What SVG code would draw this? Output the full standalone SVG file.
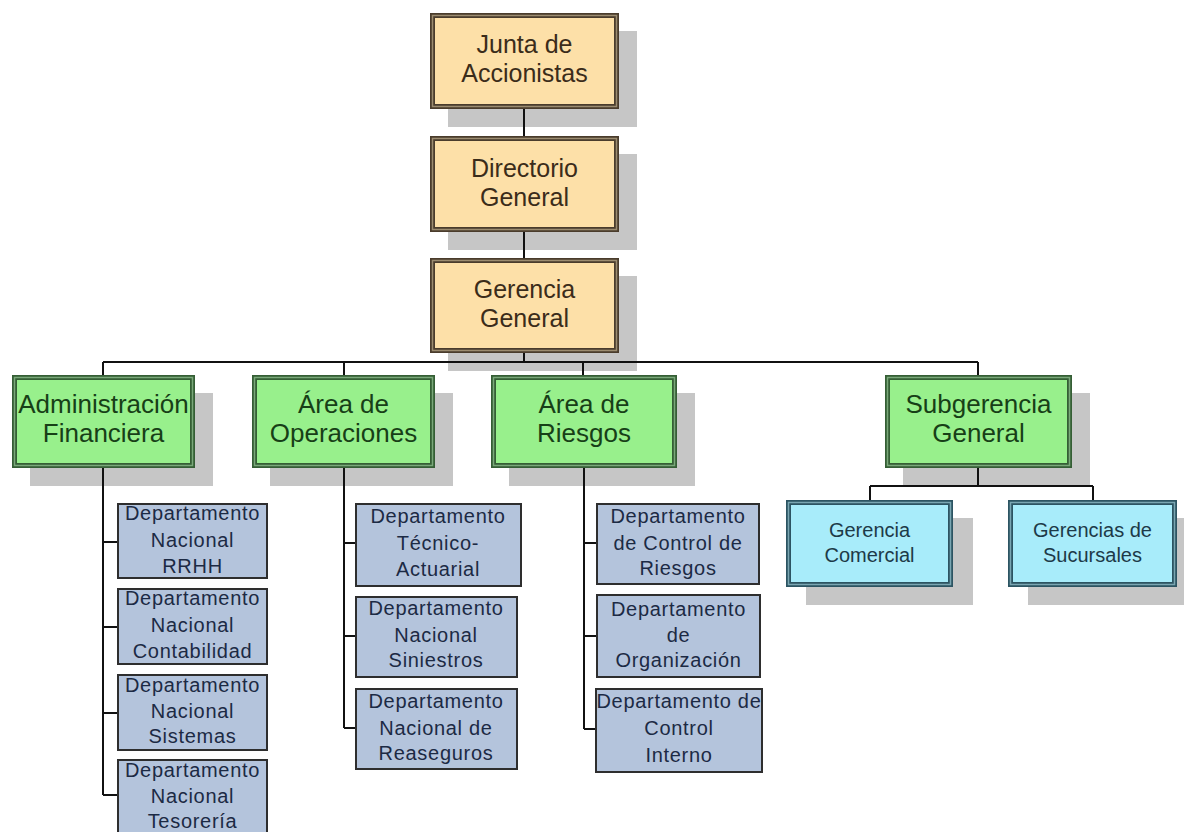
<svg xmlns="http://www.w3.org/2000/svg" width="1184" height="832" viewBox="0 0 1184 832">
  <style>
    text { font-family: "Liberation Sans", Arial, sans-serif; text-anchor: middle; }
    .shadow { fill: #c6c6c6; }
    .tan .frame { fill: #fde0a8; stroke: #4a3c2c; stroke-width: 5; }
    .tan .inner { fill: none; stroke: #9c8c70; stroke-width: 1.5; }
    .tan text { font-size: 25px; fill: #3b2c1a; }
    .green .frame { fill: #98f08c; stroke: #355e35; stroke-width: 5; }
    .green .inner { fill: none; stroke: #7aa87a; stroke-width: 1.5; }
    .green text { font-size: 26px; fill: #173f17; }
    .cyan .frame { fill: #a8ecfa; stroke: #2c5462; stroke-width: 5; }
    .cyan .inner { fill: none; stroke: #7aa6b2; stroke-width: 1.5; }
    .cyan text { font-size: 20px; fill: #1d3a48; }
    .dept rect { fill: #b4c4dc; stroke: #2e2e2e; stroke-width: 2; }
    .dept text { font-size: 20px; fill: #1c2a44; letter-spacing: 0.7px; }
    .links path { fill: none; stroke: #111; stroke-width: 2; }
  </style>

  <rect width="1184" height="832" fill="#ffffff"/>

  <!-- drop shadows of the upper boxes -->
  <g id="shadows">
    <rect class="shadow" x="448" y="31" width="189" height="96"/>
    <rect class="shadow" x="448" y="154" width="189" height="96"/>
    <rect class="shadow" x="448" y="276" width="189" height="95"/>
    <rect class="shadow" x="30" y="393" width="183" height="93"/>
    <rect class="shadow" x="270" y="393" width="183" height="93"/>
    <rect class="shadow" x="509" y="393" width="186" height="93"/>
    <rect class="shadow" x="903" y="393" width="187" height="93"/>
    <rect class="shadow" x="806" y="518" width="167" height="87"/>
    <rect class="shadow" x="1028" y="518" width="169" height="87"/>
  </g>

  <!-- connectors -->
  <g id="connectors" class="links">
    <path d="M524 109V136M524 232V258M524 353V362"/>
    <path d="M103 362H978M103 362V375M344 362V375M583 362V375M978 362V375"/>
    <path d="M103 468V795M103 542H117M103 627H117M103 713H117M103 795H117"/>
    <path d="M344 468V728M344 543H355M344 636H355M344 728H355"/>
    <path d="M584 468V729M584 543H596M584 636H596M584 729H596"/>
    <path d="M978 468V486M870 486H1093M870 486V500M1093 486V500"/>
  </g>

  <!-- top management -->
  <g id="junta" class="tan">
    <rect class="frame" x="432.5" y="15.5" width="184" height="91"/>
    <rect class="inner" x="432.5" y="15.5" width="184" height="91"/>
    <text x="524.5" y="53">Junta de</text>
    <text x="524.5" y="82">Accionistas</text>
  </g>
  <g id="directorio" class="tan">
    <rect class="frame" x="432.5" y="138.5" width="184" height="91"/>
    <rect class="inner" x="432.5" y="138.5" width="184" height="91"/>
    <text x="524.5" y="177">Directorio</text>
    <text x="524.5" y="206">General</text>
  </g>
  <g id="gerencia-general" class="tan">
    <rect class="frame" x="432.5" y="260.5" width="184" height="90"/>
    <rect class="inner" x="432.5" y="260.5" width="184" height="90"/>
    <text x="524.5" y="298">Gerencia</text>
    <text x="524.5" y="327">General</text>
  </g>

  <!-- areas -->
  <g id="administracion" class="green">
    <rect class="frame" x="14.5" y="377.5" width="178" height="88"/>
    <rect class="inner" x="14.5" y="377.5" width="178" height="88"/>
    <text x="103.5" y="413">Administración</text>
    <text x="103.5" y="442">Financiera</text>
  </g>
  <g id="operaciones" class="green">
    <rect class="frame" x="254.5" y="377.5" width="178" height="88"/>
    <rect class="inner" x="254.5" y="377.5" width="178" height="88"/>
    <text x="343.5" y="413">Área de</text>
    <text x="343.5" y="442">Operaciones</text>
  </g>
  <g id="riesgos" class="green">
    <rect class="frame" x="493.5" y="377.5" width="181" height="88"/>
    <rect class="inner" x="493.5" y="377.5" width="181" height="88"/>
    <text x="584" y="413">Área de</text>
    <text x="584" y="442">Riesgos</text>
  </g>
  <g id="subgerencia" class="green">
    <rect class="frame" x="887.5" y="377.5" width="182" height="88"/>
    <rect class="inner" x="887.5" y="377.5" width="182" height="88"/>
    <text x="978.5" y="413">Subgerencia</text>
    <text x="978.5" y="442">General</text>
  </g>

  <!-- gerencias under subgerencia -->
  <g id="gerencia-comercial" class="cyan">
    <rect class="frame" x="788.5" y="502.5" width="162" height="82"/>
    <rect class="inner" x="788.5" y="502.5" width="162" height="82"/>
    <text x="869.5" y="537">Gerencia</text>
    <text x="869.5" y="562">Comercial</text>
  </g>
  <g id="gerencias-sucursales" class="cyan">
    <rect class="frame" x="1010.5" y="502.5" width="164" height="82"/>
    <rect class="inner" x="1010.5" y="502.5" width="164" height="82"/>
    <text x="1092.5" y="537">Gerencias de</text>
    <text x="1092.5" y="562">Sucursales</text>
  </g>

  <!-- departments: Administración Financiera -->
  <g id="dep-rrhh" class="dept">
    <rect x="118" y="504" width="149" height="74"/>
    <text x="192.5" y="520">Departamento</text>
    <text x="192.5" y="547">Nacional</text>
    <text x="192.5" y="573">RRHH</text>
  </g>
  <g id="dep-contabilidad" class="dept">
    <rect x="118" y="589" width="149" height="75"/>
    <text x="192.5" y="605">Departamento</text>
    <text x="192.5" y="632">Nacional</text>
    <text x="192.5" y="658">Contabilidad</text>
  </g>
  <g id="dep-sistemas" class="dept">
    <rect x="118" y="675" width="149" height="75"/>
    <text x="192.5" y="692">Departamento</text>
    <text x="192.5" y="718">Nacional</text>
    <text x="192.5" y="743">Sistemas</text>
  </g>
  <g id="dep-tesoreria" class="dept">
    <rect x="118" y="760" width="149" height="80"/>
    <text x="192.5" y="777">Departamento</text>
    <text x="192.5" y="803">Nacional</text>
    <text x="192.5" y="828">Tesorería</text>
  </g>

  <!-- departments: Área de Operaciones -->
  <g id="dep-tecnico" class="dept">
    <rect x="356" y="504" width="165" height="82"/>
    <text x="438" y="523">Departamento</text>
    <text x="438" y="550">Técnico-</text>
    <text x="438" y="576">Actuarial</text>
  </g>
  <g id="dep-siniestros" class="dept">
    <rect x="356" y="597" width="161" height="80"/>
    <text x="436" y="615">Departamento</text>
    <text x="436" y="642">Nacional</text>
    <text x="436" y="667">Siniestros</text>
  </g>
  <g id="dep-reaseguros" class="dept">
    <rect x="356" y="689" width="161" height="80"/>
    <text x="436" y="708">Departamento</text>
    <text x="436" y="735">Nacional de</text>
    <text x="436" y="760">Reaseguros</text>
  </g>

  <!-- departments: Área de Riesgos -->
  <g id="dep-control-riesgos" class="dept">
    <rect x="597" y="504" width="162" height="80"/>
    <text x="678" y="523">Departamento</text>
    <text x="678" y="550">de Control de</text>
    <text x="678" y="575">Riesgos</text>
  </g>
  <g id="dep-organizacion" class="dept">
    <rect x="597" y="595" width="163" height="82"/>
    <text x="678.5" y="616">Departamento</text>
    <text x="678.5" y="642">de</text>
    <text x="678.5" y="667">Organización</text>
  </g>
  <g id="dep-control-interno" class="dept">
    <rect x="596" y="689" width="166" height="83"/>
    <text x="679" y="708">Departamento de</text>
    <text x="679" y="735">Control</text>
    <text x="679" y="762">Interno</text>
  </g>
</svg>
